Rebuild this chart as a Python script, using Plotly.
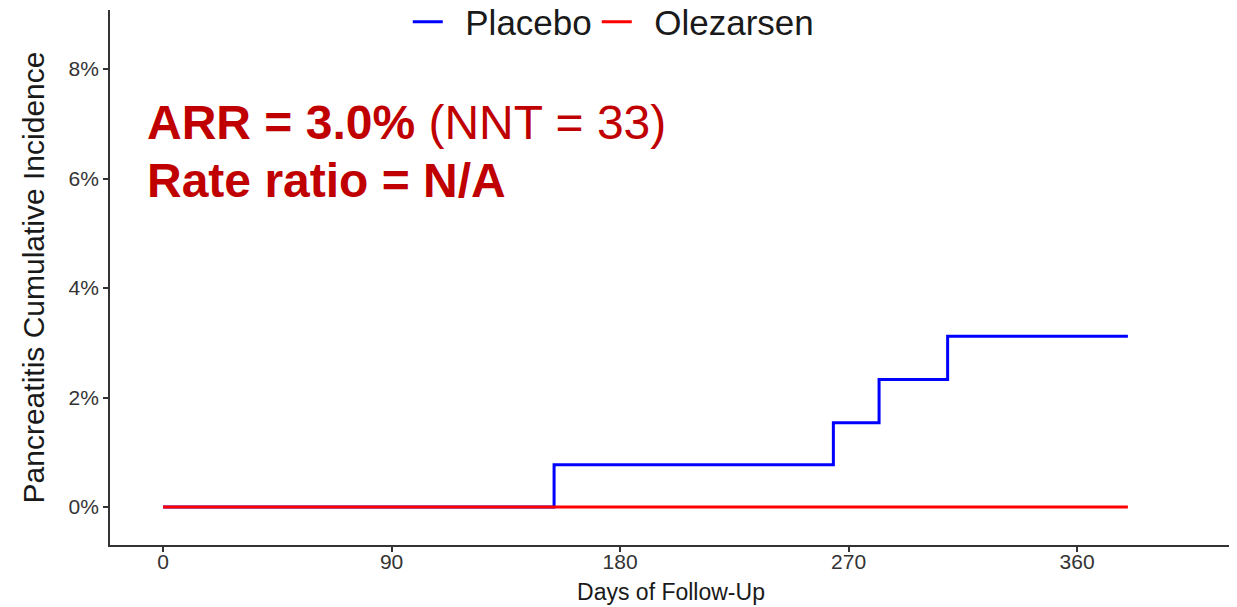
import plotly.graph_objects as go

# Data
placebo_days = [0, 154, 264, 282, 309, 380]
placebo_inc = [0.0, 0.0077, 0.0154, 0.0233, 0.0312, 0.0312]
olez_days = [0, 380]
olez_inc = [0.0, 0.0]
x_ticks = [0, 90, 180, 270, 360]
y_ticks = [0.0, 0.02, 0.04, 0.06, 0.08]

FONT = "Arial, Liberation Sans, sans-serif"
NB = "\u2002"

fig = go.Figure()
fig.add_trace(go.Scatter(x=placebo_days, y=placebo_inc, mode="lines", name=NB + "Placebo",
                         line=dict(color="#0000FF", width=3, shape="hv")))
fig.add_trace(go.Scatter(x=olez_days, y=olez_inc, mode="lines", name=NB + "Olezarsen",
                         line=dict(color="#FF0000", width=3, shape="hv")))

# page body has an 8px margin, so the figure is sized/offset to compensate
fig.update_layout(
    width=1229, height=599,
    margin=dict(l=102, r=5, t=2, b=62, autoexpand=False),
    plot_bgcolor="white", paper_bgcolor="white",
    font=dict(family=FONT, color="#333333"),
    showlegend=True,
    legend=dict(orientation="h", x=0.449, xanchor="center", y=0.9776, yanchor="middle",
                font=dict(size=35, color="#1a1a1a"), bgcolor="rgba(0,0,0,0)",
                tracegroupgap=0),
    xaxis=dict(range=[-20.9, 421], tickvals=x_ticks, ticks="outside", ticklen=5,
               tickcolor="#333333", tickwidth=1.5, showline=True, linecolor="#333333",
               linewidth=1.8, showgrid=False, zeroline=False, automargin=False,
               ticklabelstandoff=-8,
               tickfont=dict(size=21, color="#333333"),
               title=dict(text="Days of Follow-Up", font=dict(size=23, color="#1a1a1a"), standoff=12)),
    yaxis=dict(range=[-0.00694, 0.0908], tickvals=y_ticks, tickformat=".0%", ticks="outside",
               ticklen=5, tickcolor="#333333", tickwidth=1.5, showline=True, linecolor="#333333",
               linewidth=1.8, showgrid=False, zeroline=False, automargin=False,
               tickfont=dict(size=21, color="#333333"),
               title=dict(text="Pancreatitis Cumulative Incidence", font=dict(size=30, color="#1a1a1a"), standoff=15)),
)

fig.add_annotation(xref="paper", yref="paper", x=(145 - 110) / 1122, y=1 - (123 - 10) / 535,
                   xanchor="left", yanchor="middle", showarrow=False,
                   text="<b>ARR = 3.0%</b> (NNT = 33)",
                   font=dict(size=48, color="#C00000", family=FONT))
fig.add_annotation(xref="paper", yref="paper", x=(145 - 110) / 1122, y=1 - (180 - 10) / 535,
                   xanchor="left", yanchor="middle", showarrow=False,
                   text="<b>Rate ratio = N/A</b>",
                   font=dict(size=48, color="#C00000", family=FONT))

fig.write_html("out.html")
